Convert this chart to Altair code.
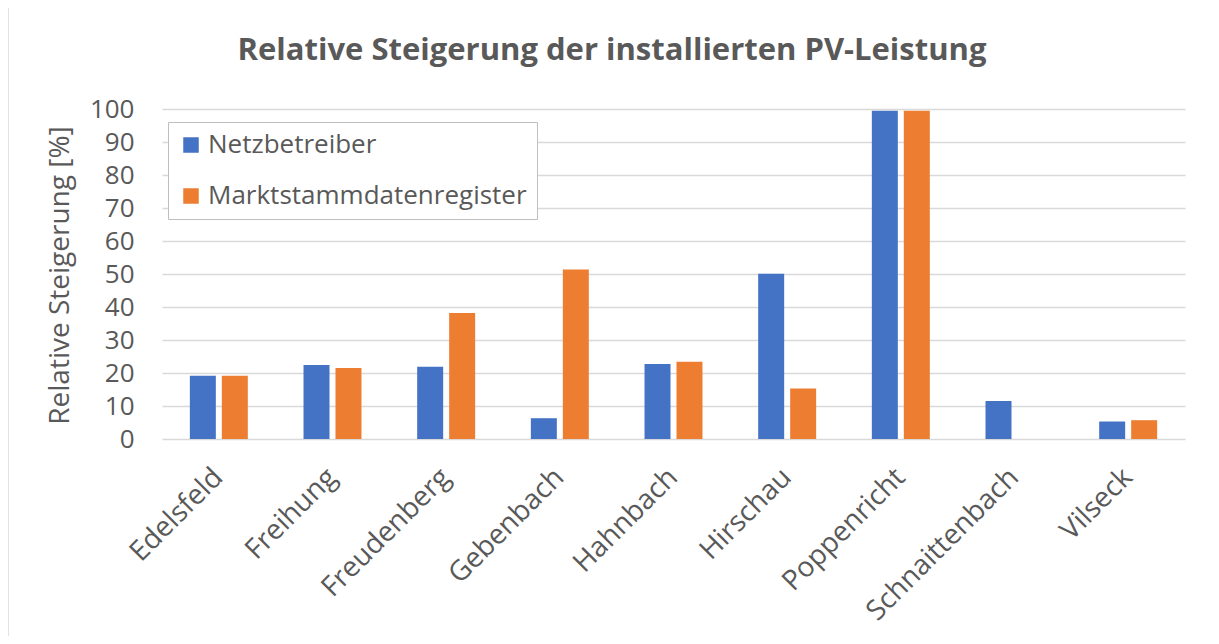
import altair as alt
import pandas as pd

categories = ["Edelsfeld", "Freihung", "Freudenberg", "Gebenbach", "Hahnbach",
              "Hirschau", "Poppenricht", "Schnaittenbach", "Vilseck"]
netzbetreiber = [19.2, 22.4, 21.9, 6.3, 22.7, 50.1, 99.5, 11.5, 5.3]
marktstamm = [19.2, 21.5, 38.2, 51.4, 23.4, 15.3, 99.5, 0.0, 5.7]
series = ["Netzbetreiber", "Marktstammdatenregister"]
colors = ["#4472C4", "#ED7D31"]
y_ticks = list(range(0, 101, 10))
title_text = "Relative Steigerung der installierten PV-Leistung"

rows = []
for c, a, b in zip(categories, netzbetreiber, marktstamm):
    rows.append({"Ort": c, "Serie": series[0], "Wert": a})
    rows.append({"Ort": c, "Serie": series[1], "Wert": b})
df = pd.DataFrame(rows)

FONT = "Open Sans"
TXT = "#595959"

bars = alt.Chart(df).mark_bar(strokeWidth=0.8).encode(
    x=alt.X("Ort:N", sort=categories, title=None,
            scale=alt.Scale(paddingInner=0.49, paddingOuter=0.245),
            axis=alt.Axis(labelAngle=315, labelAlign="right", labelBaseline="middle",
                          labelPadding=34, ticks=False, domain=False, labelLimit=0,
                          grid=False,
                          labelFontSize=28, labelColor=TXT, labelFont=FONT)),
    xOffset=alt.XOffset("Serie:N", sort=series,
                        scale=alt.Scale(paddingInner=0.1875, paddingOuter=0)),
    y=alt.Y("Wert:Q", title="Relative Steigerung [%]",
            scale=alt.Scale(domain=[0, 100], nice=False),
            axis=alt.Axis(values=y_ticks, ticks=False, domain=False,
                          gridColor="#D9D9D9", gridWidth=1.5,
                          labelFontSize=26, labelColor=TXT, labelFont=FONT,
                          labelPadding=28,
                          titleFontSize=28, titleColor=TXT, titleFont=FONT,
                          titleFontWeight="normal", titleX=-94, titleY=166,
                          titleAlign="center", titleBaseline="alphabetic")),
    color=alt.Color("Serie:N", sort=series,
                    scale=alt.Scale(domain=series, range=colors),
                    legend=alt.Legend(title=None, orient="none", legendX=6, legendY=13,
                                      symbolType="square", symbolSize=240,
                                      symbolStrokeWidth=0, labelLimit=0,
                                      labelFontSize=26, labelColor=TXT, labelFont=FONT,
                                      rowPadding=25, padding=10,
                                      strokeColor="#BFBFBF", fillColor="white",
                                      labelOffset=4)),
)

frame_df = pd.DataFrame({"t": [title_text]})
frame = alt.Chart(frame_df).mark_rect(fill=None, stroke="#D9D9D9", strokeWidth=1.5).encode(
    x=alt.value(-154), x2=alt.value(1055), y=alt.value(-103), y2=alt.value(540)
)
title = alt.Chart(frame_df).mark_text(
    font=FONT, fontSize=31, fontWeight="bold", color=TXT,
    align="center", baseline="middle"
).encode(text="t:N", x=alt.value(450), y=alt.value(-58))

chart = alt.layer(frame, bars, title).properties(
    width=1023, height=330,
    autosize=alt.AutoSizeParams(type="none"),
    padding={"left": 154, "top": 101, "right": 26, "bottom": 197},
    background="white",
    view=alt.ViewBackground(stroke=None),
).configure_view(stroke=None)

chart.save("out.html", embed_options={"renderer": "svg", "actions": False})
